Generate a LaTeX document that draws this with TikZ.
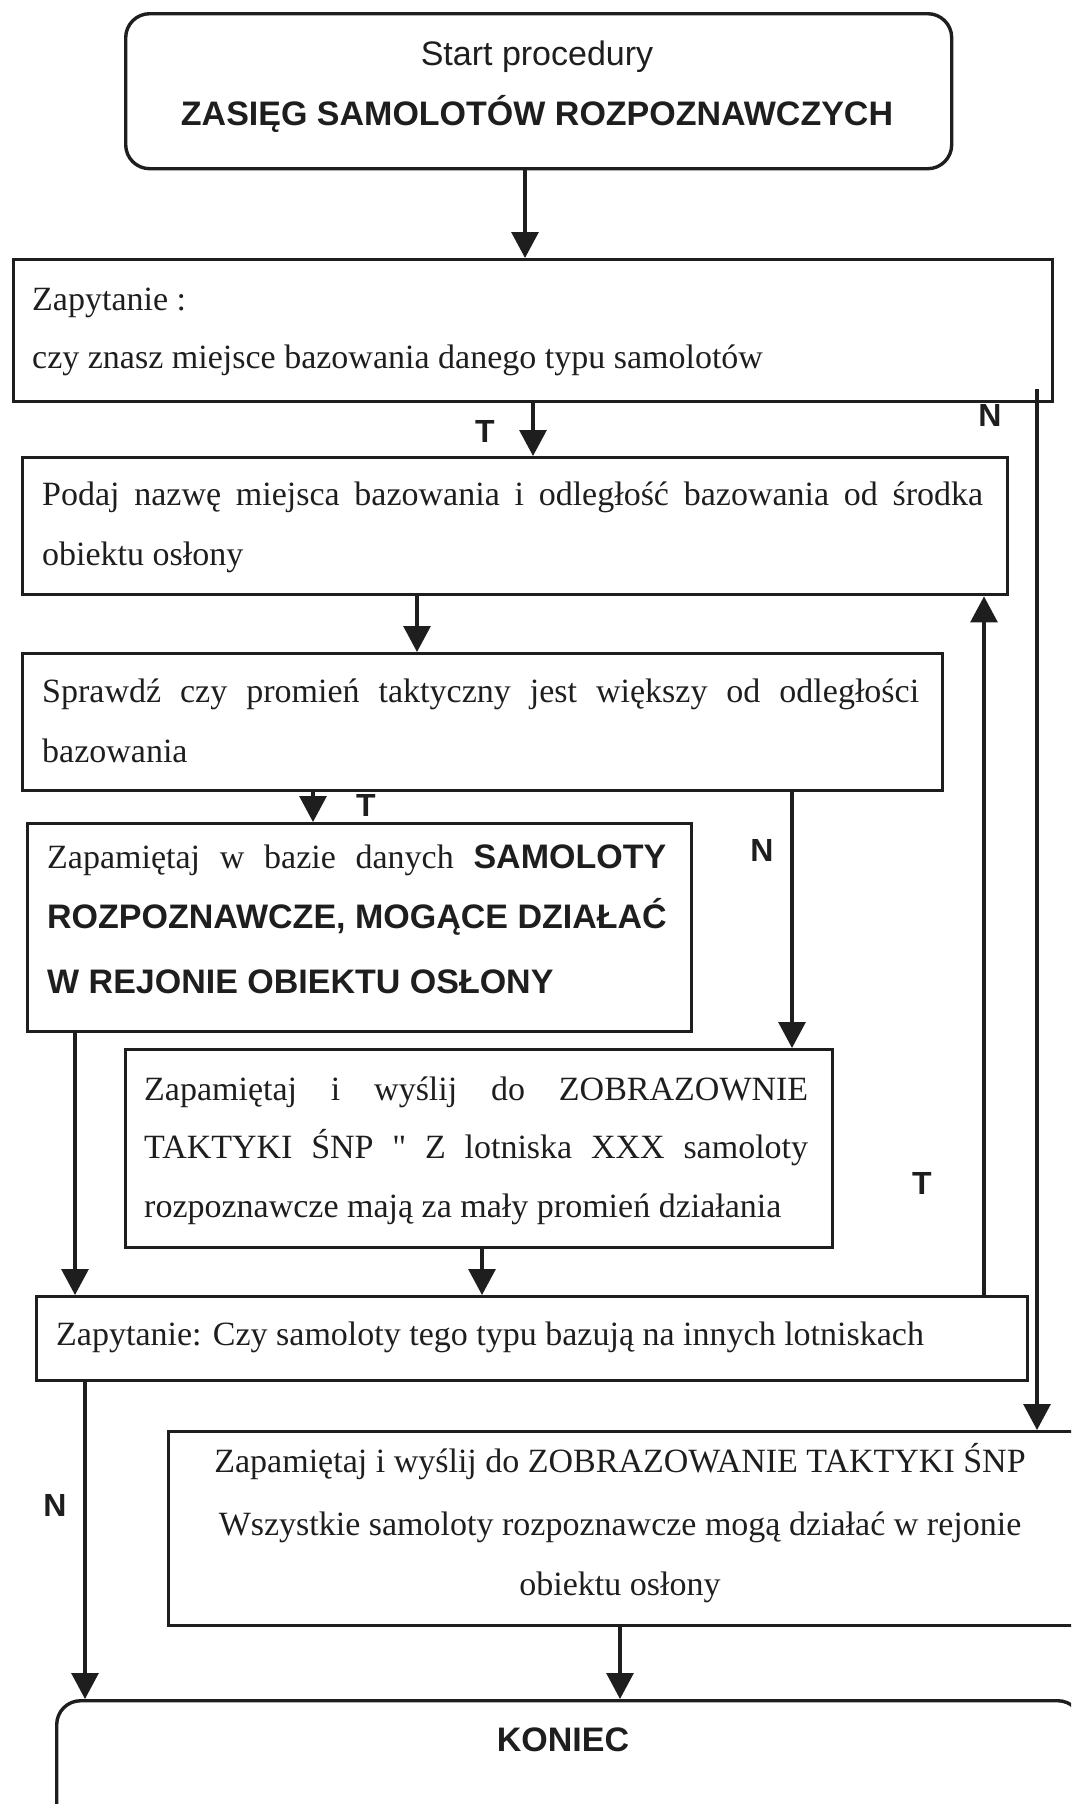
\documentclass[tikz,border=0pt]{standalone}
\usepackage{fontspec}
\setmainfont{Liberation Serif}
\setsansfont{Liberation Sans}
\newfontfamily\rawserif[Ligatures=ResetAll]{Liberation Serif}
\usetikzlibrary{arrows.meta}
\definecolor{ink}{HTML}{1E1E1E}
\newcommand{\txt}{\fontsize{34}{40}\selectfont}
\newcommand{\hd}{\sffamily\bfseries}
\newcommand{\straightquote}{{\rawserif"}}
% a line stretched to a given width by widening its word spaces
\newcommand{\jline}[2]{\hbox to #1{\spaceskip=0pt plus 1fil\relax #2}}
\begin{document}
\begin{tikzpicture}[x=1pt,y=-1pt,
  box/.style={draw=ink,line width=3.4pt,inner sep=0pt,anchor=north west},
  rbox/.style={box,rounded corners=24pt},
  txtline/.style={inner sep=0pt,anchor=base west,text=ink,font=\txt},
  ctrline/.style={inner sep=0pt,anchor=base,text=ink,font=\txt},
  lbl/.style={inner sep=0pt,text=ink,font=\fontsize{32}{36}\selectfont\hd},
  conn/.style={draw=ink,line width=3.1pt},
  arr/.style={conn,-{Triangle[length=26pt,width=27pt]}},
]
\path[use as bounding box] (0,0) rectangle (1071,1804);
\clip (0,0) rectangle (1071,1804);

% boxes
\node[rbox,minimum width=826pt,minimum height=155pt] (b1) at (124,12) {};
\node[box,minimum width=1039pt,minimum height=142pt] (b2) at (12,258) {};
\node[box,minimum width=985pt,minimum height=137pt] (b3) at (21,456) {};
\node[box,minimum width=920pt,minimum height=137pt] (b4) at (21,652) {};
\node[box,minimum width=664pt,minimum height=208pt] (b5) at (26,822) {};
\node[box,minimum width=707pt,minimum height=198pt] (b6) at (124,1048) {};
\node[box,minimum width=991pt,minimum height=84pt] (b7) at (35,1295) {};
\node[box,minimum width=913pt,minimum height=194pt] (b8) at (167,1430) {};
\node[rbox,minimum width=1025pt,minimum height=130pt] (b9) at (55,1699) {};

% texts
\node[ctrline,font=\txt\sffamily] (t1a) at (537,65) {Start procedury};
\node[ctrline,font=\txt\hd] (t1b) at (537,125) {ZASIĘG SAMOLOTÓW ROZPOZNAWCZYCH};

\node[txtline] (t2a) at (32,310) {Zapytanie :};
\node[txtline] (t2b) at (32,368) {czy znasz miejsce bazowania danego typu samolotów};

\node[txtline] (t3a) at (42,505) {\jline{941pt}{Podaj nazwę miejsca bazowania i odległość bazowania od środka}};
\node[txtline] (t3b) at (42,565) {obiektu osłony};

\node[txtline] (t4a) at (42,702) {\jline{877pt}{Sprawdź czy promień taktyczny jest większy od odległości}};
\node[txtline] (t4b) at (42,762) {bazowania};

\node[txtline] (t5a) at (47,868) {\jline{619pt}{Zapamiętaj w bazie danych {\hd SAMOLOTY}}};
\node[txtline,font=\txt\hd] (t5b) at (47,928) {ROZPOZNAWCZE, MOGĄCE DZIAŁAĆ};
\node[txtline,font=\txt\hd] (t5c) at (47,993) {W REJONIE OBIEKTU OSŁONY};

\node[txtline] (t6a) at (144,1100) {\jline{664pt}{Zapamiętaj i wyślij do ZOBRAZOWNIE}};
\node[txtline] (t6b) at (144,1158) {\jline{664pt}{TAKTYKI ŚNP \straightquote{} Z lotniska XXX samoloty}};
\node[txtline] (t6c) at (144,1217) {rozpoznawcze mają za mały promień działania};

\node[txtline] (t7) at (56,1345) {Zapytanie: Czy samoloty tego typu bazują na innych lotniskach};

\node[ctrline] (t8a) at (620,1472) {Zapamiętaj i wyślij do ZOBRAZOWANIE TAKTYKI ŚNP};
\node[ctrline] (t8b) at (620,1535) {Wszystkie samoloty rozpoznawcze mogą działać w rejonie};
\node[ctrline] (t8c) at (620,1595) {obiektu osłony};

\node[ctrline,font=\txt\hd] (t9) at (563,1751) {KONIEC};

% branch labels
\node[lbl] (l1) at (485,431) {T};
\node[lbl] (l2) at (990,415) {N};
\node[lbl] (l3) at (366,805) {T};
\node[lbl] (l4) at (762,850) {N};
\node[lbl] (l5) at (922,1183) {T};
\node[lbl] (l6) at (55,1505) {N};

% connector columns
\coordinate (x1) at (525,0);
\coordinate (x2) at (533,0);
\coordinate (xn) at (1037,0);
\coordinate (x3) at (417,0);
\coordinate (x4) at (313,0);
\coordinate (x5) at (792,0);
\coordinate (x6) at (984,0);
\coordinate (x7) at (75,0);
\coordinate (x8) at (482,0);
\coordinate (x9) at (85,0);
\coordinate (x10) at (620,0);
\coordinate (nstart) at (1037,389);

% connectors
\draw[arr] (b1.south -| x1) -- (b2.north -| x1);
\draw[arr] (b2.south -| x2) -- (b3.north -| x2);
\draw[arr] (nstart) -- (b8.north -| xn);
\draw[arr] (b3.south -| x3) -- (b4.north -| x3);
\draw[arr] (b4.south -| x4) -- (b5.north -| x4);
\draw[arr] (b4.south -| x5) -- (b6.north -| x5);
\draw[arr] (b7.north -| x6) -- (b3.south -| x6);
\draw[arr] (b5.south -| x7) -- (b7.north -| x7);
\draw[arr] (b6.south -| x8) -- (b7.north -| x8);
\draw[arr] (b7.south -| x9) -- (b9.north -| x9);
\draw[arr] (b8.south -| x10) -- (b9.north -| x10);
\end{tikzpicture}
\end{document}
